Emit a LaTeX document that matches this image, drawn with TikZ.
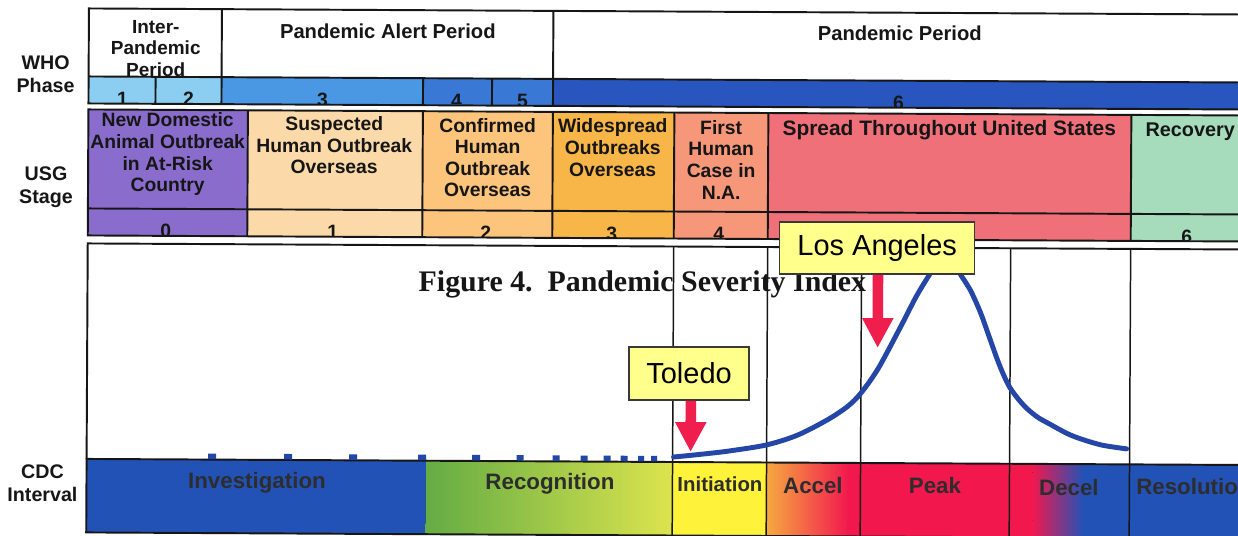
\documentclass[tikz,border=0pt]{standalone}
\usepackage{fontspec}
\setmainfont{Liberation Sans}
\newfontfamily\capfont{Liberation Serif}
\usetikzlibrary{arrows.meta}
\definecolor{whoA}{HTML}{8CCDF2}
\definecolor{whoB}{HTML}{4A98E4}
\definecolor{whoC}{HTML}{3A78D6}
\definecolor{whoD}{HTML}{2856BE}
\definecolor{usgA}{HTML}{8A6CCC}
\definecolor{usgB}{HTML}{FCD9A9}
\definecolor{usgC}{HTML}{FDC47C}
\definecolor{usgD}{HTML}{F8B548}
\definecolor{usgE}{HTML}{F6977A}
\definecolor{usgF}{HTML}{F0707A}
\definecolor{usgG}{HTML}{A6DCBC}
\definecolor{cdcblue}{HTML}{2352B6}
\definecolor{recA}{HTML}{64AC44}
\definecolor{recB}{HTML}{DCE44E}
\definecolor{initY}{HTML}{FFF23A}
\definecolor{accO}{HTML}{F5AA40}
\definecolor{accM}{HTML}{F36A46}
\definecolor{peakR}{HTML}{F2184E}
\definecolor{decM}{HTML}{D8309A}
\definecolor{curveB}{HTML}{2446A6}
\definecolor{boxY}{HTML}{FFFF8C}
\definecolor{arrR}{HTML}{F01E4C}
\definecolor{ink}{HTML}{161616}
\begin{document}
\begin{tikzpicture}[x=0.02cm,y=-0.02cm,
  rule/.style={draw=ink,line width=1.1pt},
  vline/.style={draw=ink,line width=0.85pt},
  hdr/.style={font=\bfseries\fontsize{11.5}{12.2}\selectfont,align=center,inner sep=0pt,text=ink},
  cell/.style={font=\bfseries\fontsize{11}{12.3}\selectfont,align=center,inner sep=0pt,text=ink},
  side/.style={font=\bfseries\fontsize{11.2}{13}\selectfont,align=center,inner sep=0pt,text=ink},
  num/.style={font=\bfseries\fontsize{11}{12}\selectfont,anchor=base,inner sep=0pt,text=ink},
  cdc/.style={font=\bfseries\fontsize{12.7}{13}\selectfont,inner sep=0pt,text=ink!90},
  city/.style={draw=ink!85,line width=0.9pt,fill=boxY,font=\fontsize{16.5}{18}\selectfont,inner sep=0pt},
  redarrow/.style={draw=arrR,line width=6pt,-{Triangle[width=16.6pt,length=17pt]}},
  sq/.style={fill=curveB}]
\clip (0,0) rectangle (1238,536);
\fill[white] (0,0) rectangle (1238,536);
\begin{scope}[rotate=-0.3]
% ---------- left labels
\node[side] (who) at (46,74) {WHO\\Phase};
\node[side] (usg) at (47,187) {USG\\Stage};
\node[side] (cdcl) at (45,483) {CDC\\Interval};
% ---------- WHO header texts (behind strip)
\node[hdr,font=\bfseries\fontsize{10.8}{12.2}\selectfont] (ip) at (156,47.5) {Inter-\\Pandemic\\Period};
\node[hdr] (pap) at (388,29) {Pandemic Alert Period};
\node[hdr] (pp) at (900,29) {Pandemic Period};
% ---------- WHO strip
\fill[whoA] (89,76) rectangle (222,103);
\fill[whoB] (222,76) rectangle (423.5,103);
\fill[whoC] (423.5,76) rectangle (553.5,103);
\fill[whoD] (553.5,76) rectangle (1270,103);
\begin{scope}
  \clip (89,76) rectangle (1270,101.5);
  \node[num] (w1) at (123,105) {1};
  \node[num] (w2) at (189,105) {2};
  \node[num] (w3) at (323,105) {3};
  \node[num] (w4) at (457,105) {4};
  \node[num] (w5) at (523,105) {5};
  \node[num] (w6) at (899,105) {6};
\end{scope}
\draw[rule] (1270,8) -- (89,8) -- (89,103) -- (1270,103);
\draw[rule] (89,76) -- (1270,76);
\draw[rule] (222,8) -- (222,103);
\draw[rule] (553.5,8) -- (553.5,103);
\draw[rule] (156,76) -- (156,103);
\draw[rule] (423.5,76) -- (423.5,103);
\draw[rule] (492.5,76) -- (492.5,103);
% ---------- USG row
\fill[usgA] (89,109) rectangle (248.5,235);
\fill[usgB] (248.5,109) rectangle (423.5,235);
\fill[usgC] (423.5,109) rectangle (553.5,235);
\fill[usgD] (553.5,109) rectangle (675,235);
\fill[usgE] (675,109) rectangle (769,235);
\fill[usgF] (769,109) rectangle (1132,235);
\fill[usgG] (1132,109) rectangle (1270,235);
\node[cell] (s0) at (168.5,153.5) {New Domestic\\Animal Outbreak\\in At-Risk\\Country};
\node[cell] (s1) at (335,143.5) {Suspected\\Human Outbreak\\Overseas};
\node[cell] (s2) at (488.5,155) {Confirmed\\Human\\Outbreak\\Overseas};
\node[cell] (s3) at (613.5,144.5) {Widespread\\Outbreaks\\Overseas};
\node[cell] (s4) at (722,156) {First\\Human\\Case in\\N.A.};
\node[cell,font=\bfseries\fontsize{11.9}{13}\selectfont] (s5) at (950,125) {Spread Throughout United States};
\node[cell,font=\bfseries\fontsize{11.3}{13}\selectfont] (s6) at (1191,126) {Recovery};
\begin{scope}
  \clip (89,208) rectangle (1270,233.5);
  \node[num] (u0) at (167,237) {0};
  \node[num] (u1) at (334,237) {1};
  \node[num] (u2) at (487,237) {2};
  \node[num] (u3) at (613,237) {3};
  \node[num] (u4) at (720,237) {4};
  \node[num] (u6) at (1188,237) {6};
\end{scope}
\draw[rule] (1270,109) -- (89,109) -- (89,235) -- (1270,235);
\draw[rule] (89,208) -- (1270,208);
\foreach \xx in {248.5,423.5,553.5,675,769,1132}
  \draw[rule] (\xx,109) -- (\xx,235);
% ---------- CDC bar
\fill[cdcblue] (89,458.5) rectangle (428.5,532);
\fill[left color=recA,right color=recB] (428.5,458.5) rectangle (675,532);
\fill[initY] (675,458.5) rectangle (769,532);
\fill[left color=accO,middle color=accM,right color=peakR] (769,458.5) rectangle (851,532);
\fill[peakR] (850,458.5) rectangle (1036,532);
\fill[left color=peakR,middle color=decM,right color=cdcblue] (1035,458.5) rectangle (1086,532);
\fill[cdcblue] (1085,458.5) rectangle (1270,532);
\draw[rule] (1270,458.5) -- (89,458.5) -- (89,532) -- (1270,532);
% ---------- chart frame
\draw[rule] (1270,243) -- (89,243) -- (89,458.5);
\foreach \xx in {675,769,863,1012,1132}
  \draw[vline] (\xx,243) -- (\xx,532);
% ---------- CDC labels
\node[cdc] (inv) at (259.5,481) {Investigation};
\node[cdc] (rec) at (552.5,481) {Recognition};
\node[cdc,font=\bfseries\fontsize{11.6}{13}\selectfont] (ini) at (722.5,480) {Initiation};
\node[cdc] (acc) at (815.5,481.5) {Accel};
\node[cdc] (peak) at (937.5,481) {Peak};
\node[cdc] (dec) at (1071.5,481.5) {Decel};
\node[cdc,anchor=west] (res) at (1138.5,481) {Resolution};
% ---------- caption
\node[font=\capfont\bfseries\fontsize{17}{18}\selectfont,anchor=base,inner sep=0pt,text=ink] (cap) at (644,288) {Figure 4.~~Pandemic Severity Index};
% ---------- curve
\foreach \xx/\w in {214.5/8,290.5/8,355.5/8,424.5/8,478.5/8,522.5/7,558.5/7,586.5/7,609.5/7,626.5/7,643.5/6,656.5/6}
  \fill[sq] (\xx-\w/2,452.5) rectangle (\xx+\w/2,458);
\draw[curveB,line width=2.8pt,line cap=round] plot[smooth,tension=0.5] coordinates {
  (676,453.5) (700,451) (730,447.4) (769,440.9) (800,430.9) (830,415.3) (850,401.8)
  (863,388.6) (880,364.2) (902,322.8) (918,291.4) (932,268.1) (940,256) (947,251)
  (955,257.6) (962,269.5) (972,285.3) (982,307.1) (990,328.9) (999,353.7) (1006,370.6)
  (1012,382.4) (1020,393.3) (1029,403.1) (1040,411.9) (1052,418.6) (1070,428.2)
  (1085,433.9) (1105,439.5) (1129,443)};
% ---------- city labels
\node[city,minimum width=2.4cm,minimum height=1.06cm] (tol) at (691,370) {Toledo};
\node[city,minimum width=3.9cm,minimum height=1.04cm] (la) at (878.5,243.4) {Los Angeles};
\coordinate (tolTip) at (693,448.4);
\coordinate (laTip) at (879.5,343.4);
\draw[redarrow] (tol.south -| tolTip) -- (tolTip);
\draw[redarrow] (la.south -| laTip) -- (laTip);
\end{scope}
\end{tikzpicture}
\end{document}
